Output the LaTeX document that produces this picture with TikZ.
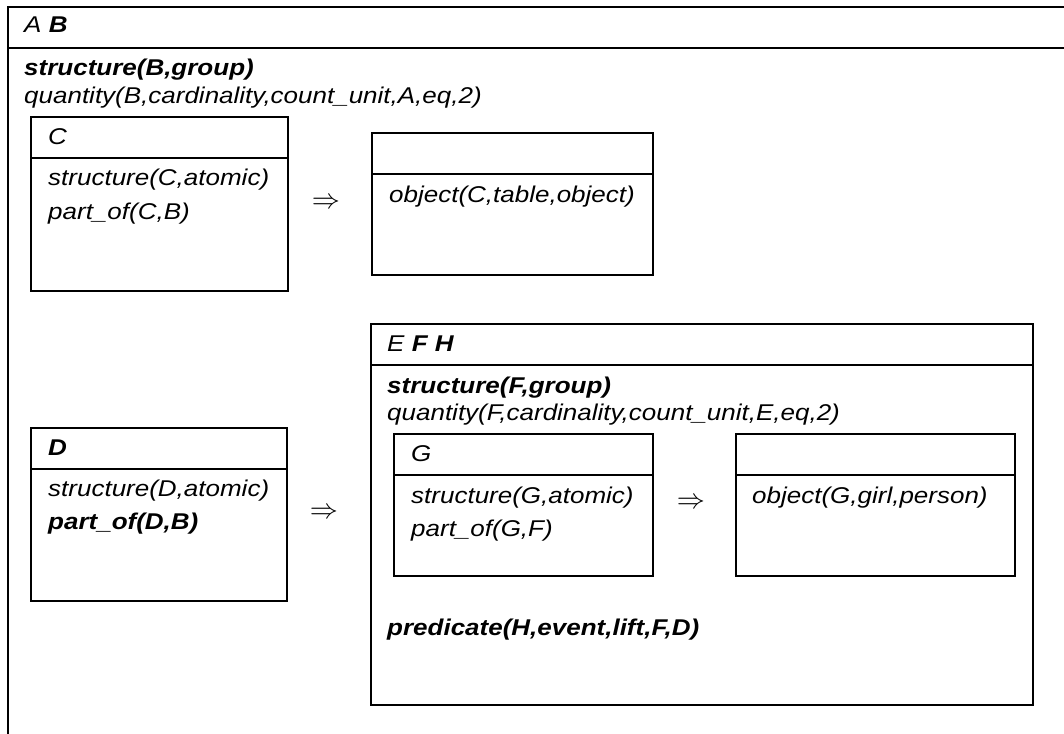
\documentclass[tikz,border=0pt]{standalone}
\usepackage{fontspec}
\setmainfont{Liberation Sans}[FakeStretch=1.14]
\tikzset{
  box/.style={draw=black, line width=1.1pt},
  outer/.style={draw=black, line width=1.5pt},
  txt/.style={anchor=base west, inner sep=0pt, font=\fontsize{22.8}{28}\selectfont\itshape},
  btxt/.style={anchor=base west, inner sep=0pt, font=\fontsize{22.8}{28}\selectfont\bfseries\itshape},
  imp/.style={anchor=center, inner sep=0pt, font=\fontsize{26}{31}\selectfont}
}
\newcommand{\impl}{\scalebox{1.13}{$\Rightarrow$}}
\begin{document}
\begin{tikzpicture}[x=1pt,y=-1pt]
\clip (0,0) rectangle (1064,733);
\fill[white] (0,0) rectangle (1064,733);
% outer DRS (cut off right and bottom)
\draw[outer] (8,745) -- (8,7) -- (1075,7);
\draw[outer] (8,48) -- (1075,48);
\node[txt] (ab) at (24,33) {A \textbf{B}};
\node[btxt] (sB) at (24,76) {structure(B,group)};
\node[txt] (qB) at (24,103) {quantity(B,cardinality,count\_unit,A,eq,2)};
% box C
\draw[box] (31,117) rectangle (288,291);
\draw[box] (31,158) -- (288,158);
\node[txt] (c) at (48,144) {C};
\node[txt] (sC) at (48,185) {structure(C,atomic)};
\node[txt] (pC) at (48,219) {part\_of(C,B)};
\node[imp] (i1) at (326,203) {\impl};
% box consequent 1
\draw[box] (372,133) rectangle (653,275);
\draw[box] (372,174) -- (653,174);
\node[txt] (oC) at (389,202) {object(C,table,object)};
% box D
\draw[box] (31,428) rectangle (287,601);
\draw[box] (31,469) -- (287,469);
\node[btxt] (d) at (48,455) {D};
\node[txt] (sD) at (48,496) {structure(D,atomic)};
\node[btxt] (pD) at (48,529) {part\_of(D,B)};
\node[imp] (i2) at (324,513) {\impl};
% box EFH
\draw[box] (371,324) rectangle (1033,705);
\draw[box] (371,365) -- (1033,365);
\node[txt] (efh) at (387,351) {E \textbf{F H}};
\node[btxt] (sF) at (387,393) {structure(F,group)};
\node[txt] (qF) at (387,420) {quantity(F,cardinality,count\_unit,E,eq,2)};
% box G
\draw[box] (394,434) rectangle (653,576);
\draw[box] (394,475) -- (653,475);
\node[txt] (g) at (411,461) {G};
\node[txt] (sG) at (411,503) {structure(G,atomic)};
\node[txt] (pG) at (411,536) {part\_of(G,F)};
\node[imp] (i3) at (691,503) {\impl};
% box consequent 2
\draw[box] (736,434) rectangle (1015,576);
\draw[box] (736,475) -- (1015,475);
\node[txt] (oG) at (752,503) {object(G,girl,person)};
\node[btxt] (pH) at (387,635) {predicate(H,event,lift,F,D)};
\end{tikzpicture}
\end{document}
